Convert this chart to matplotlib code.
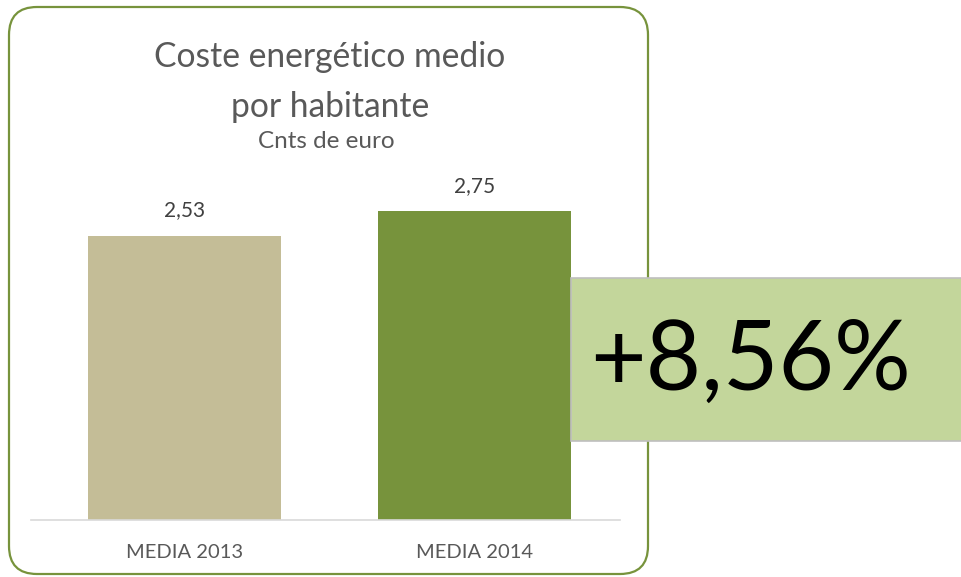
import matplotlib.pyplot as plt
import matplotlib.patches as patches

plt.rcParams['font.family'] = ['Lato', 'DejaVu Sans']

# data
categories = ['MEDIA 2013', 'MEDIA 2014']
values = [2.53, 2.75]
bar_colors = ['#C4BD97', '#77933C']
change_label = '+8,56%'

W, H = 962, 577
fig = plt.figure(figsize=(W / 100, H / 100), dpi=100)

# chart axes (pixel box: x 31..620, baseline at y=520)
ax = fig.add_axes([31 / W, (H - 520) / H, 589 / W, 360 / H])
x = list(range(len(categories)))
bars = ax.bar(x, values, width=0.665, color=bar_colors)
ax.bar_label(bars, labels=[f'{v:.2f}'.replace('.', ',') for v in values],
             padding=11, fontsize=15, color='#404040')
ax.set_xlim(-0.53, 1.50)
ax.set_ylim(0, 360 / 112.4)
ax.set_xticks(x)
ax.set_xticklabels(categories, fontsize=14.5, color='#595959')
ax.tick_params(axis='x', length=0, pad=17)
ax.set_yticks([])
for s in ['top', 'right', 'left']:
    ax.spines[s].set_visible(False)
ax.spines['bottom'].set_color('#D9D9D9')
ax.spines['bottom'].set_linewidth(1.2)
ax.patch.set_alpha(0)

# overlay in pixel coordinates
ov = fig.add_axes([0, 0, 1, 1])
ov.set_xlim(0, W)
ov.set_ylim(H, 0)
ov.axis('off')
ov.patch.set_alpha(0)

frame = patches.FancyBboxPatch((9, 7), 639, 567, boxstyle='round,pad=0,rounding_size=28',
                               linewidth=1.6, edgecolor='#77933C', facecolor='none')
ov.add_patch(frame)

ov.text(330, 67, 'Coste energético medio', ha='center', va='baseline',
        fontsize=24.2, color='#595959')
ov.text(330, 117, 'por habitante', ha='center', va='baseline',
        fontsize=24.2, color='#595959')
ov.text(326, 148, 'Cnts de euro', ha='center', va='baseline',
        fontsize=17.5, color='#595959')

box = patches.Rectangle((571, 278), 400, 163, facecolor='#C3D69B',
                        edgecolor='#BFBFBF', linewidth=1.2, zorder=3)
ov.add_patch(box)
ov.text(751, 390, change_label, ha='center', va='baseline', fontsize=69,
        color='black', zorder=4)

fig.savefig('out.png', dpi=100)
